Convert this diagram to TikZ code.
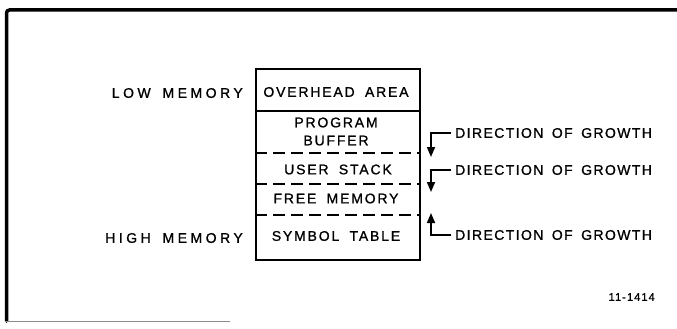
\documentclass[tikz,border=0pt]{standalone}
\usepackage{fontspec}
\setmainfont{Liberation Sans}[LetterSpace=13,WordSpace=1.8,FakeBold=1]
\newfontfamily\sidefont{Liberation Sans}[LetterSpace=25,WordSpace=1.6,FakeBold=1]
\newfontfamily\notefont{Liberation Sans}[LetterSpace=10,WordSpace=1.6,FakeBold=1]
\usetikzlibrary{arrows.meta}
\begin{document}
\begin{tikzpicture}[x=1pt,y=-1pt,
  lbl/.style={font=\fontsize{14}{18}\selectfont, inner sep=0pt, align=center},
  sidelbl/.style={font=\sidefont\fontsize{14}{18}\selectfont, inner sep=0pt, anchor=east},
  growthlbl/.style={font=\notefont\fontsize{14}{18}\selectfont, inner sep=0pt, anchor=west},
  divider/.style={line width=1.5pt, dash pattern=on 12pt off 6pt},
  growth/.style={line width=1.7pt, -{Triangle[length=10pt,width=8pt]}},
  frameline/.style={line width=3.5pt, line cap=round}]
\useasboundingbox (0,0) rectangle (677,329);
% outer frame
\draw[frameline, rounded corners=3pt] (6.5,321) -- (6.5,10) -- (680,10);
\draw[line width=0.8pt, black!45] (5,321) -- (230,321);
% memory map
\node[draw, line width=1.9pt, minimum width=164pt, minimum height=191pt, inner sep=0pt, anchor=north west] (map) at (255,68) {};
\coordinate (s1) at (255,111);
\coordinate (s2) at (255,153);
\coordinate (s3) at (255,184);
\coordinate (s4) at (255,215);
\draw[line width=1.4pt] (s1) -- (s1 -| map.east);
\draw[divider] (s2) -- (s2 -| map.east);
\draw[divider] (s3) -- (s3 -| map.east);
\draw[divider] (s4) -- (s4 -| map.east);
\node[lbl] (overhead) at (336,92) {OVERHEAD AREA};
\node[lbl] (buffer) at (336,131.5) {PROGRAM\\BUFFER};
\node[lbl] (stack) at (338,169.5) {USER STACK};
\node[lbl] (free) at (336,198.5) {FREE MEMORY};
\node[lbl] (symbol) at (336,236) {SYMBOL TABLE};
% side labels
\node[sidelbl] (low) at (243,93) {LOW MEMORY};
\node[sidelbl] (high) at (243,238) {HIGH MEMORY};
% growth directions
\node[growthlbl] (g1) at (455,133) {DIRECTION OF GROWTH};
\node[growthlbl] (g2) at (455,170) {DIRECTION OF GROWTH};
\node[growthlbl] (g3) at (455,235) {DIRECTION OF GROWTH};
\coordinate (t1) at (431,157);
\coordinate (t2) at (431,192);
\coordinate (t3) at (431,213);
\draw[growth] ([xshift=-4pt]g1.west) -| (t1);
\draw[growth] ([xshift=-4pt]g2.west) -| (t2);
\draw[growth] ([xshift=-4pt]g3.west) -| (t3);
% figure number
\node[font=\notefont\fontsize{11}{13}\selectfont, inner sep=0pt, anchor=east] (fig) at (655,297) {11-1414};
\end{tikzpicture}
\end{document}
